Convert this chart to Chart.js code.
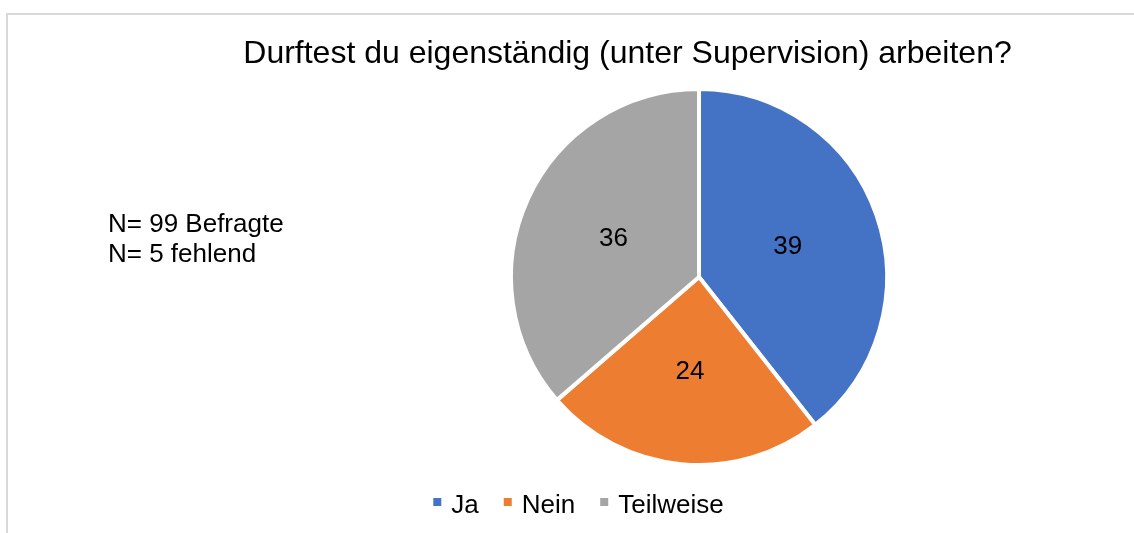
<!DOCTYPE html>
<html>
<head>
<meta charset="utf-8">
<script src="https://cdn.jsdelivr.net/npm/chart.js@4/dist/chart.umd.min.js"></script>
<style>
html,body{margin:0;padding:0;background:#fff;}
#wrap{position:relative;width:1134px;height:533px;}
</style>
</head>
<body>
<div id="wrap"><canvas id="c" width="1134" height="533"></canvas></div>
<script>
const title = "Durftest du eigenständig (unter Supervision) arbeiten?";
const categories = ["Ja", "Nein", "Teilweise"];
const values = [39, 24, 36];
const colors = ["#4472C4", "#ED7D31", "#A5A5A5"];
const noteLines = ["N= 99 Befragte", "N= 5 fehlend"];

const FONT = '"Liberation Sans", Arial, sans-serif';

const decor = {
  id: 'decor',
  beforeDraw(chart) {
    const ctx = chart.ctx;
    ctx.save();
    ctx.fillStyle = '#fff';
    ctx.fillRect(0, 0, chart.width, chart.height);
    ctx.fillStyle = '#D9D9D9';
    ctx.fillRect(6, 13, chart.width, 2);
    ctx.fillRect(6, 13, 2, chart.height);
    ctx.restore();
  },
  afterDraw(chart) {
    const ctx = chart.ctx;
    ctx.save();
    // title
    ctx.fillStyle = '#000';
    ctx.font = '32px ' + FONT;
    ctx.textAlign = 'center';
    ctx.textBaseline = 'alphabetic';
    ctx.fillText(title, 627.5, 63);
    // notes
    ctx.font = '26px ' + FONT;
    ctx.textAlign = 'left';
    noteLines.forEach((t, i) => ctx.fillText(t, 108, 232 + i * 30));
    // data labels
    const meta = chart.getDatasetMeta(0);
    ctx.font = '26px ' + FONT;
    ctx.textAlign = 'center';
    ctx.textBaseline = 'middle';
    meta.data.forEach((arc, i) => {
      const p = arc.getCenterPoint();
      ctx.fillText(String(values[i]), p.x, p.y + 1);
    });
    // legend
    ctx.font = '26px ' + FONT;
    ctx.textAlign = 'left';
    ctx.textBaseline = 'alphabetic';
    const box = 8, gapBox = 10, gapItem = 25;
    let total = 0;
    const widths = categories.map(c => ctx.measureText(c).width);
    widths.forEach((w, i) => { total += box + gapBox + w + (i < widths.length - 1 ? gapItem : 0); });
    let x = 578.5 - total / 2;
    categories.forEach((c, i) => {
      ctx.fillStyle = colors[i];
      ctx.fillRect(x, 498, box, box);
      ctx.fillStyle = '#000';
      ctx.fillText(c, x + box + gapBox, 513);
      x += box + gapBox + widths[i] + gapItem;
    });
    ctx.restore();
  }
};

new Chart(document.getElementById('c'), {
  type: 'pie',
  data: {
    labels: categories,
    datasets: [{
      data: values,
      backgroundColor: colors,
      borderColor: '#ffffff',
      borderWidth: 4,
      hoverOffset: 0
    }]
  },
  options: {
    responsive: false,
    animation: false,
    devicePixelRatio: 1,
    layout: { padding: { left: 509, right: 245, top: 87, bottom: 66 } },
    plugins: {
      legend: { display: false },
      title: { display: false },
      tooltip: { enabled: false }
    }
  },
  plugins: [decor]
});
</script>
</body>
</html>
